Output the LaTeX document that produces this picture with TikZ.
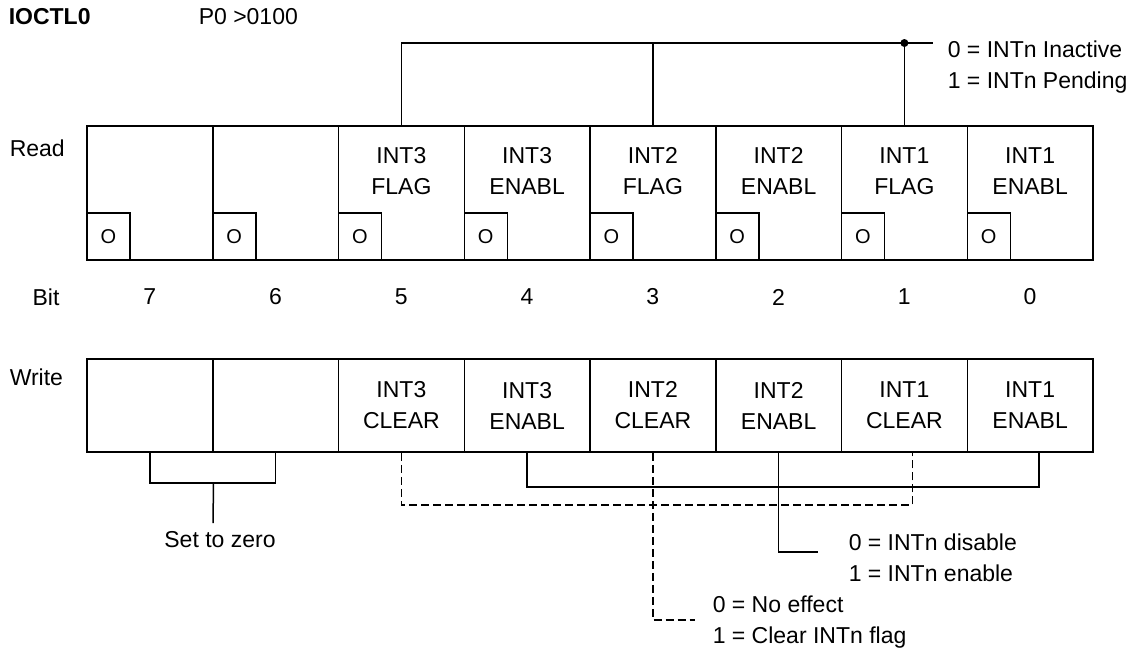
\documentclass[tikz,border=0pt]{standalone}
\usepackage{fontspec}
\setmainfont{Liberation Sans}
\begin{document}
\begin{tikzpicture}[x=0.5pt,y=-0.5pt,
  font=\fontsize{11.5}{15.5}\selectfont,
  line width=0.75pt,
  cell/.style={draw, rectangle, minimum width=62.875pt, inner sep=0pt, align=center},
  rcell/.style={cell, minimum height=67pt},
  wcell/.style={cell, minimum height=46.5pt},
  obox/.style={draw, rectangle, minimum width=21.5pt, minimum height=23.5pt, inner sep=0pt, font=\fontsize{10}{12}\selectfont},
  txt/.style={inner sep=0pt, align=center},
  note/.style={inner sep=0pt, align=left, anchor=west},
  bus/.style={line width=0.75pt},
  clr/.style={bus, dash pattern=on 4pt off 2pt}]
\useasboundingbox (0,0) rectangle (1134,654);

% title line
\node[note, font=\fontsize{11.5}{15.5}\selectfont\bfseries] (title) at (8,17) {IOCTL0};
\node[note] (addr) at (198,17) {P0 >0100};

% row labels
\node[note] (readlbl) at (9,148) {Read};
\node[txt] (bitlbl) at (46,297) {Bit};
\node[note] (writelbl) at (9,377) {Write};

% read and write cells, bit 7 on the left
\foreach \b/\rtxt/\wtxt in {7/{}/{}, 6/{}/{},
    5/{INT3\\FLAG}/{INT3\\CLEAR}, 4/{INT3\\ENABL}/{INT3\\ENABL},
    3/{INT2\\FLAG}/{INT2\\CLEAR}, 2/{INT2\\ENABL}/{INT2\\ENABL},
    1/{INT1\\FLAG}/{INT1\\CLEAR}, 0/{INT1\\ENABL}/{INT1\\ENABL}} {
  \pgfmathsetmacro{\xx}{87+125.75*(7.5-\b)}
  \node[rcell] (r\b) at (\xx,193) {};
  \node[txt] (t\b) at (\xx,171) {\rtxt};
  \node[obox, anchor=south west] (o\b) at (r\b.south west) {O};
  \node[txt] (n\b) at (\xx,297) {\b};
  \node[wcell] (w\b) at (\xx,405.5) {\wtxt};
}

% flag bits to the top note
\coordinate (flagbus) at (933,43);
\draw[bus] (r5.north) |- (flagbus);
\draw[bus] (r3.north) -- (r3.north |- flagbus);
\draw[bus] (r1.north) -- (r1.north |- flagbus);
\fill (r1.north |- flagbus) circle (2pt);
\node[note] (flagtxt) at (947,67.5) {0 = INTn Inactive\\1 = INTn Pending};

% unused bits
\coordinate (zerobus) at (0,483);
\coordinate (zeroend) at (213,523);
\draw[bus] (w7.south) |- (w6.south |- zerobus) -- (w6.south);
\draw[bus] (w7.south east |- zerobus) -- (zeroend);
\node[txt] (zerotxt) at (220,540) {Set to zero};

% enable bits
\coordinate (enbus) at (0,487);
\coordinate (w0tap) at ([xshift=4.5pt]w0.south);
\coordinate (enend) at (818,552);
\draw[bus] (w4.south) |- (w0tap |- enbus) -- (w0tap);
\draw[bus] (w2.south) |- (enend);
\node[note] (entxt) at (848,557.5) {0 = INTn disable\\1 = INTn enable};

% clear bits
\coordinate (clrbus) at (0,505);
\coordinate (w1tap) at ([xshift=4pt]w1.south);
\coordinate (clrend) at (695,620);
\draw[clr] (w5.south) |- (w1tap |- clrbus) -- (w1tap);
\draw[clr] (w3.south) |- (clrend);
\node[note] (clrtxt) at (712,622) {0 = No effect\\1 = Clear INTn flag};
\end{tikzpicture}
\end{document}
